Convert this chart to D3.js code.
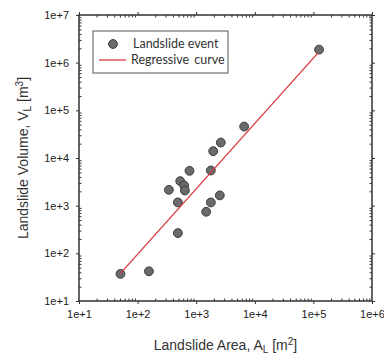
<!DOCTYPE html>
<html lang="en">
<head>
    <meta charset="UTF-8">
    <title>Landslide Volume vs Area</title>
    <script src="https://d3js.org/d3.v7.min.js"></script>
    <style>
        body {
            margin: 0;
            background: #fff;
            font-family: "Liberation Sans", Arial, sans-serif;
        }
        .tick text {
            font-family: "Liberation Sans", Arial, sans-serif;
            font-size: 11px;
            fill: #222;
        }
        .tick line {
            stroke: #333;
        }
    </style>
</head>
<body>
    <div id="chart"></div>
    <script>
        // landslide events: area A_L [m2], volume V_L [m3]
        const areas = [51, 156, 342, 487, 487, 534, 624, 641, 769, 1480, 1778, 1778, 1950, 2530, 2630, 6580, 125000];
        const volumes = [37, 42, 2150, 1170, 266, 3270, 2650, 2080, 5380, 745, 5470, 1170, 13900, 1640, 21100, 45700, 1.88e6];

        // regressive curve end points
        const curveA = [51, 120000];
        const curveV = [38, 1.6e6];

        const xDomain = [1e1, 1e6];
        const yDomain = [1e1, 1e7];

        const W = 384, H = 358;
        const margin = { top: 15, right: 12, bottom: 57, left: 79 };
        const width = W - margin.left - margin.right;
        const height = H - margin.top - margin.bottom;

        const svg = d3.select("#chart")
            .append("svg")
            .attr("width", W)
            .attr("height", H);

        const g = svg.append("g")
            .attr("transform", `translate(${margin.left},${margin.top})`);

        const x = d3.scaleLog().domain(xDomain).range([0, width]);
        const y = d3.scaleLog().domain(yDomain).range([height, 0]);

        function majors(dom) {
            const out = [];
            for (let e = Math.log10(dom[0]); e <= Math.log10(dom[1]); e++) out.push(Math.pow(10, e));
            return out;
        }
        function minors(dom) {
            const out = [];
            for (let e = Math.log10(dom[0]); e < Math.log10(dom[1]); e++) {
                for (let k = 2; k <= 9; k++) out.push(k * Math.pow(10, e));
            }
            return out;
        }
        const fmt = d3.format(".0e");

        // major ticks (outward) with labels
        g.append("g")
            .attr("transform", `translate(0,${height})`)
            .call(d3.axisBottom(x).tickValues(majors(xDomain)).tickSize(3).tickPadding(6).tickFormat(fmt))
            .call(a => a.select(".domain").remove());
        g.append("g")
            .call(d3.axisLeft(y).tickValues(majors(yDomain)).tickSize(3).tickPadding(7).tickFormat(fmt))
            .call(a => a.select(".domain").remove());
        g.append("g")
            .call(d3.axisTop(x).tickValues(majors(xDomain)).tickSize(3).tickFormat(""))
            .call(a => a.select(".domain").remove());
        g.append("g")
            .attr("transform", `translate(${width},0)`)
            .call(d3.axisRight(y).tickValues(majors(yDomain)).tickSize(3).tickFormat(""))
            .call(a => a.select(".domain").remove());

        // minor ticks (inward)
        g.append("g")
            .attr("transform", `translate(0,${height})`)
            .call(d3.axisBottom(x).tickValues(minors(xDomain)).tickSize(-2.5).tickFormat(""))
            .call(a => a.select(".domain").remove());
        g.append("g")
            .call(d3.axisTop(x).tickValues(minors(xDomain)).tickSize(-2.5).tickFormat(""))
            .call(a => a.select(".domain").remove());
        g.append("g")
            .call(d3.axisLeft(y).tickValues(minors(yDomain)).tickSize(-2.5).tickFormat(""))
            .call(a => a.select(".domain").remove());
        g.append("g")
            .attr("transform", `translate(${width},0)`)
            .call(d3.axisRight(y).tickValues(minors(yDomain)).tickSize(-2.5).tickFormat(""))
            .call(a => a.select(".domain").remove());

        // frame
        g.append("rect")
            .attr("width", width)
            .attr("height", height)
            .attr("fill", "none")
            .attr("stroke", "#333")
            .attr("stroke-width", 1.5);

        // points
        g.selectAll(".dot")
            .data(areas.map((a, i) => ({ a: a, v: volumes[i] })))
            .enter()
            .append("circle")
            .attr("class", "dot")
            .attr("cx", d => x(d.a))
            .attr("cy", d => y(d.v))
            .attr("r", 4.4)
            .attr("fill", "#6b6b6b")
            .attr("stroke", "#3a3a3a")
            .attr("stroke-width", 1);

        // regressive curve
        g.append("line")
            .attr("x1", x(curveA[0]))
            .attr("y1", y(curveV[0]))
            .attr("x2", x(curveA[1]))
            .attr("y2", y(curveV[1]))
            .attr("stroke", "#d9363e")
            .attr("stroke-width", 1.3);

        // legend
        const lg = svg.append("g").attr("transform", "translate(93,31)");
        lg.append("rect")
            .attr("width", 135)
            .attr("height", 42)
            .attr("fill", "#fff")
            .attr("stroke", "#555")
            .attr("stroke-width", 1);
        lg.append("circle")
            .attr("cx", 20)
            .attr("cy", 13)
            .attr("r", 4.4)
            .attr("fill", "#6b6b6b")
            .attr("stroke", "#3a3a3a");
        lg.append("line")
            .attr("x1", 6).attr("x2", 33)
            .attr("y1", 29).attr("y2", 29)
            .attr("stroke", "#d9363e")
            .attr("stroke-width", 1.3);
        lg.append("text")
            .attr("x", 40).attr("y", 17)
            .style("font-family", "Lato, 'Open Sans', sans-serif")
            .style("font-size", "12.5px")
            .attr("fill", "#333")
            .text("Landslide event");
        lg.append("text")
            .attr("x", 38).attr("y", 33)
            .style("font-family", "Lato, 'Open Sans', sans-serif")
            .style("font-size", "12.5px")
            .attr("fill", "#333")
            .attr("word-spacing", "2px")
            .text("Regressive curve");

        // axis titles
        const xt = svg.append("text")
            .attr("x", margin.left + width / 2)
            .attr("y", 350)
            .attr("text-anchor", "middle")
            .style("font-size", "14px")
            .attr("fill", "#333");
        xt.append("tspan").text("Landslide Area, A");
        xt.append("tspan").attr("dy", 3).style("font-size", "10px").text("L");
        xt.append("tspan").attr("dy", -3).text(" [m");
        xt.append("tspan").attr("dy", -5).style("font-size", "10px").text("2");
        xt.append("tspan").attr("dy", 5).text("]");

        const yt = svg.append("text")
            .attr("transform", `translate(28,${margin.top + height / 2}) rotate(-90)`)
            .attr("text-anchor", "middle")
            .style("font-size", "14px")
            .attr("fill", "#333");
        yt.append("tspan").text("Landslide Volume, V");
        yt.append("tspan").attr("dy", 3).style("font-size", "10px").text("L");
        yt.append("tspan").attr("dy", -3).text(" [m");
        yt.append("tspan").attr("dy", -5).style("font-size", "10px").text("3");
        yt.append("tspan").attr("dy", 5).text("]");
    </script>
</body>
</html>
